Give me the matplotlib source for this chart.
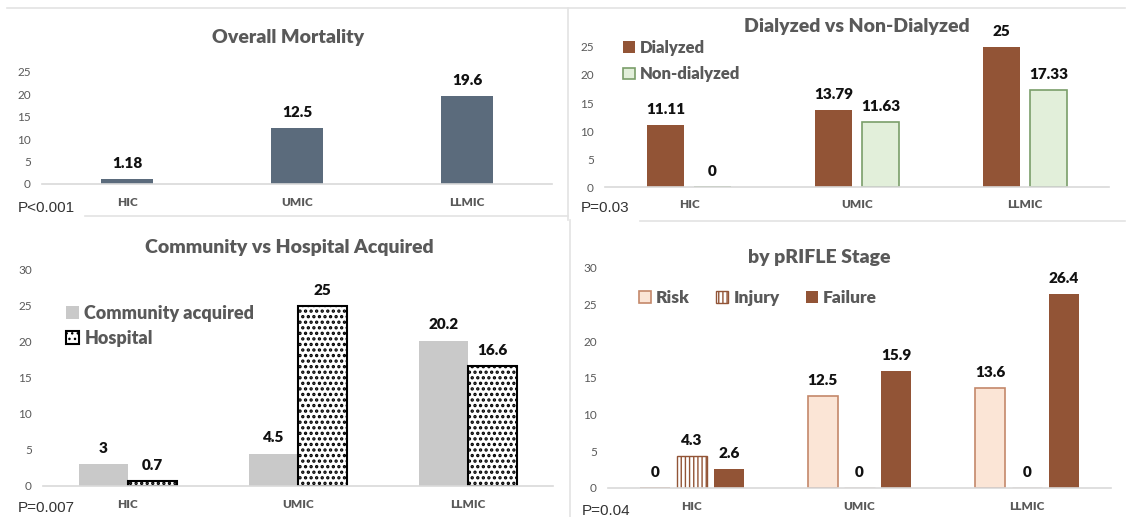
import numpy as np
import matplotlib.pyplot as plt
from matplotlib.lines import Line2D

plt.rcParams['font.family'] = ['Lato', 'DejaVu Sans']
plt.rcParams['hatch.linewidth'] = 1.0

# Daten
laender = ['HIC', 'UMIC', 'LLMIC']
mortalitaet = [1.18, 12.5, 19.6]
dialysiert = [11.11, 13.79, 25]
nicht_dialysiert = [0, 11.63, 17.33]
ambulant = [3, 4.5, 20.2]
nosokomial = [0.7, 25, 16.6]
risk = [0, 12.5, 13.6]
injury = [4.3, 0, 0]
failure = [2.6, 15.9, 26.4]
p_werte = ['P<0.001', 'P=0.03', 'P=0.007', 'P=0.04']

W, H = 1128, 517
GRAU = '#595959'
BRAUN = '#925436'
FETT = 'heavy'

fig = plt.figure(figsize=(W / 100, H / 100), dpi=100)


def achse(x0, x1, y_null, y_oben, ymax):
    # Achse in Pixelkoordinaten anlegen
    ax = fig.add_axes([x0 / W, 1 - y_null / H, (x1 - x0) / W, (y_null - y_oben) / H])
    ax.set_xlim(-0.5, 2.5)
    ax.set_ylim(0, ymax)
    for s in ['top', 'right', 'left']:
        ax.spines[s].set_visible(False)
    ax.spines['bottom'].set_color('#D9D9D9')
    ax.spines['bottom'].set_linewidth(1.2)
    ax.set_xticks(range(3))
    ax.set_xticklabels(laender, fontsize=8.5, fontweight=FETT, color=GRAU)
    ax.set_yticks(np.arange(0, ymax + 1, 5))
    ax.tick_params(axis='x', length=0, pad=9)
    ax.tick_params(axis='y', length=0, pad=8, labelsize=8.5, labelcolor=GRAU)
    ax.patch.set_alpha(0)
    return ax


def beschriften(ax, xs, werte):
    for x, v in zip(xs, werte):
        ax.annotate(f'{v:g}', (x, v), xytext=(0, 8), textcoords='offset points',
                    ha='center', va='baseline', fontsize=11, fontweight=FETT,
                    color='#111111', annotation_clip=False)


def titel(x, y, text):
    fig.text(x / W, 1 - y / H, text, ha='center', va='center', fontsize=14,
             fontweight=FETT, color=GRAU)


def pwert(x, y, text):
    fig.text(x / W, 1 - y / H, text, ha='left', va='center', fontsize=11,
             family='Liberation Sans', color='#333333')


# Rahmenlinien
for xs, ys in [([7, 1125], [8, 8]), ([85, 568], [216, 216]), ([568, 568], [8, 220]),
               ([640, 1125], [221, 221]), ([570, 570], [220, 517])]:
    fig.add_artist(Line2D([x / W for x in xs], [1 - y / H for y in ys],
                          color='#E3E3E3', linewidth=1.2))

x = np.arange(3)

# Gesamtmortalitaet
ax1 = achse(42, 552, 184, 72, 25)
ax1.bar(x, mortalitaet, width=0.31, color='#5B6B7C')
beschriften(ax1, x, mortalitaet)
titel(288, 38, 'Overall Mortality')
pwert(18, 208, p_werte[0])

# Dialyse
ax2 = achse(605, 1109, 187, 47, 25)
ax2.bar(x - 0.14, dialysiert, width=0.22, color=BRAUN, label='Dialyzed')
ax2.bar(x + 0.14, nicht_dialysiert, width=0.22, color='#E2EFDA', edgecolor='#7A9E6A',
        linewidth=1.2, label='Non-dialyzed')
beschriften(ax2, x - 0.14, dialysiert)
beschriften(ax2, x + 0.14, nicht_dialysiert)
titel(857, 27, 'Dialyzed vs Non-Dialyzed')
pwert(581, 208, p_werte[1])
ax2.legend(loc='center left', bbox_to_anchor=(608 / W, 1 - 61 / H),
           bbox_transform=fig.transFigure, frameon=False,
           handlelength=0.7, handleheight=0.7, handletextpad=0.3, labelspacing=0.65,
           labelcolor=GRAU, prop={'weight': FETT, 'size': 12})

# Ambulant vs nosokomial
ax3 = achse(43, 553, 486, 270, 30)
ax3.bar(x - 0.145, ambulant, width=0.29, color='#C9C9C9', label='Community acquired')
with plt.rc_context({'hatch.linewidth': 1.6}):
    ax3.bar(x + 0.145, nosokomial, width=0.29, color='white', edgecolor='black',
            hatch='...', linewidth=1.5, label='Hospital')
beschriften(ax3, x - 0.145, ambulant)
beschriften(ax3, x + 0.145, nosokomial)
titel(289, 247, 'Community vs Hospital Acquired')
pwert(18, 508, p_werte[2])
ax3.legend(loc='center left', bbox_to_anchor=(50 / W, 1 - 326 / H),
           bbox_transform=fig.transFigure, frameon=False,
           handlelength=0.7, handleheight=0.7, handletextpad=0.3, labelspacing=0.45,
           labelcolor=GRAU, prop={'weight': FETT, 'size': 13})

# pRIFLE
ax4 = achse(608, 1111, 488, 268, 30)
ax4.bar(x - 0.22, risk, width=0.18, color='#FBE5D6', edgecolor='#C4886A',
        linewidth=1.2, label='Risk')
ax4.bar(x, injury, width=0.18, color='white', edgecolor=BRAUN, hatch='||||',
        linewidth=1.0, label='Injury')
ax4.bar(x + 0.22, failure, width=0.18, color=BRAUN, label='Failure')
beschriften(ax4, x - 0.22, risk)
beschriften(ax4, x, injury)
beschriften(ax4, x + 0.22, failure)
titel(819, 257, 'by pRIFLE Stage')
pwert(582, 511, p_werte[3])
ax4.legend(loc='center left', bbox_to_anchor=(623 / W, 1 - 298 / H),
           bbox_transform=fig.transFigure, frameon=False, ncol=3,
           handlelength=0.7, handleheight=0.7, handletextpad=0.3, columnspacing=1.5,
           labelcolor=GRAU, prop={'weight': FETT, 'size': 12.5})

fig.savefig('out.png', dpi=100)
